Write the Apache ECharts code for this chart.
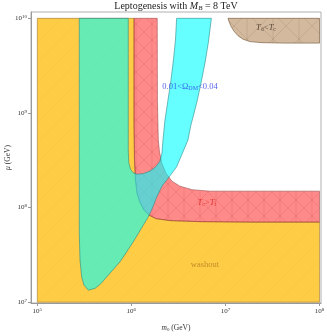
<!DOCTYPE html>
<html><head><meta charset="utf-8">
<script src="https://cdn.jsdelivr.net/npm/echarts@6/dist/echarts.min.js"></script>
<style>html,body{margin:0;padding:0;background:#fff}#c{width:327px;height:336px}</style>
</head><body><div id="c"></div>
<script>
// all coordinates are log10(m0/GeV), log10(mu/GeV)
const xTicks = [5, 6, 7, 8];
const yTicks = [7, 8, 9, 10];
const domainX = [5, 8];
const domainY = [7, 10];
// boundary between washout region and the T_c>T_f band (outer edge of band)
const washoutEdge = [[6.028,10],[6.028,8.924],[6.033,8.501],[6.044,8.290],[6.060,8.152],[6.091,8.057],[6.134,7.973],[6.187,7.920],[6.261,7.883],[6.410,7.862],[6.729,7.851],[7.260,7.846],[8,7.846]];
// inner edge of the T_c>T_f band
const tcTfInner = [[6.275,10],[6.277,9.135],[6.286,8.712],[6.299,8.586],[6.325,8.469],[6.368,8.364],[6.431,8.279],[6.516,8.226],[6.644,8.189],[6.835,8.173],[8,8.173]];
// Omega_DM = 0.01 contour
const omega001 = [[5.446,10],[5.446,7.73],[5.454,7.444],[5.472,7.264],[5.496,7.18],[5.542,7.127],[5.613,7.145],[5.677,7.196],[5.738,7.267],[5.879,7.426],[6.020,7.637],[6.180,7.902],[6.219,7.983],[6.269,8.110],[6.325,8.226],[6.392,8.311],[6.481,8.430],[6.538,8.564],[6.601,8.712],[6.633,8.871],[6.694,9.104],[6.740,9.315],[6.782,9.526],[6.819,9.748],[6.851,10]];
// Omega_DM = 0.04 contour
const omega004 = [[5.967,10],[5.967,8.607],[5.972,8.480],[5.990,8.406],[6.017,8.369],[6.060,8.353],[6.123,8.358],[6.198,8.385],[6.261,8.432],[6.304,8.490],[6.325,8.575],[6.336,8.712],[6.357,8.924],[6.389,9.135],[6.421,9.347],[6.447,9.558],[6.469,9.770],[6.481,10]];
// T_d < T_c region
const tdTc = [[7.027,10],[7.037,9.970],[7.058,9.918],[7.090,9.865],[7.133,9.817],[7.186,9.780],[7.260,9.754],[7.388,9.743],[7.632,9.738],[8,9.738],[8,10]];
// region labels
const labelPos = {washout:[6.782,7.391], tctf:[6.803,8.047], omega:[6.623,9.273], tdtc:[7.432,9.896]};

function hatch(bg, line, size, diagA, diagB, vert, lw){
  const c = document.createElement('canvas'); c.width = size; c.height = size;
  const g = c.getContext('2d');
  g.fillStyle = bg; g.fillRect(0,0,size,size);
  g.strokeStyle = line; g.lineWidth = lw || 0.6;
  g.beginPath();
  if (diagA){ g.moveTo(-1,size+1); g.lineTo(size+1,-1); }
  if (diagB){ g.moveTo(-1,-1); g.lineTo(size+1,size+1); }
  if (vert){ g.moveTo(size/2,0); g.lineTo(size/2,size); }
  g.stroke();
  return {image:c, repeat:'repeat'};
}

const orangePoly = [[domainX[0],domainY[1]]].concat(washoutEdge, [[domainX[1],domainY[0]],[domainX[0],domainY[0]]]);
const redPoly = washoutEdge.concat(tcTfInner.slice().reverse());
const cyanPoly = omega001.concat(omega004.slice().reverse());

function poly(name, pts, fill, stroke, z){
  return {type:'custom', name, z, silent:true, coordinateSystem:'cartesian2d', data:[0],
    renderItem:(params, api)=>({type:'polygon', shape:{points: pts.map(p=>api.coord(p))},
      style:{fill, stroke, lineWidth:0.8}})};
}

const serif = '"Liberation Serif", "DejaVu Serif", serif';
const richBase = {
  i:{fontFamily:serif, fontStyle:'italic', fontSize:8.5},
  n:{fontFamily:serif, fontSize:8.5},
  s:{fontFamily:serif, fontSize:6, verticalAlign:'bottom', padding:[3,0,0,0]}
};
function lab(pos, text, color){
  return {value:pos, label:{show:true, position:'inside', formatter:text, color,
    rich:{i:Object.assign({color},richBase.i), n:Object.assign({color},richBase.n), s:Object.assign({color},richBase.s)}}};
}

const chart = echarts.init(document.getElementById('c'), null, {renderer:'canvas'});
chart.setOption({
  animation:false,
  backgroundColor:'#fff',
  title:{text:'Leptogenesis with {i|M}{s|B} = 8 TeV', left:176, top:0, padding:[1,0,0,0], textAlign:'center',
    textStyle:{fontFamily:serif, fontSize:10, fontWeight:'normal', color:'#222',
      rich:{i:{fontFamily:serif, fontStyle:'italic', fontSize:10, color:'#222'},
            s:{fontFamily:serif, fontStyle:'italic', fontSize:7, color:'#222', verticalAlign:'bottom', padding:[4,0,0,0]}}}},
  grid:{left:31, right:6, top:12, bottom:33, containLabel:false, outerBoundsMode:'none', show:true, borderColor:'#b0b0b0', borderWidth:1, backgroundColor:'transparent'},
  xAxis:{type:'value', min:4.933, max:8.016,
    axisLine:{show:true, lineStyle:{color:'#999', width:1}},
    axisTick:{show:true, inside:false, length:3, customValues:xTicks, lineStyle:{color:'#999'}},
    splitLine:{show:false},
    axisLabel:{customValues:xTicks, margin:4, formatter:v=>'{b|10}{p|'+v+'}',
      rich:{b:{fontFamily:serif, fontSize:7, color:'#333'}, p:{fontFamily:serif, fontSize:5, color:'#333', verticalAlign:'top', padding:[0,0,3,0]}}},
    name:'{i|m}{s|0} (GeV)', nameLocation:'middle', nameGap:21, nameMoveOverlap:false,
    nameTextStyle:{fontFamily:serif, fontSize:7.5, color:'#333',
      rich:{i:{fontFamily:serif, fontStyle:'italic', fontSize:7.5, color:'#333'}, s:{fontFamily:serif, fontSize:5, color:'#333', verticalAlign:'bottom', padding:[3,0,0,0]}}}},
  yAxis:{type:'value', min:6.991, max:10.067,
    axisLine:{show:true, lineStyle:{color:'#999', width:1}},
    axisTick:{show:true, inside:false, length:3, customValues:yTicks, lineStyle:{color:'#999'}},
    splitLine:{show:false},
    axisLabel:{customValues:yTicks, margin:4, formatter:v=>'{b|10}{p|'+v+'}',
      rich:{b:{fontFamily:serif, fontSize:7, color:'#333'}, p:{fontFamily:serif, fontSize:5, color:'#333', verticalAlign:'top', padding:[0,0,3,0]}}},
    name:'{i|μ} (GeV)', nameLocation:'middle', nameGap:19, nameRotate:90, nameMoveOverlap:false,
    nameTextStyle:{fontFamily:serif, fontSize:7.5, color:'#333',
      rich:{i:{fontFamily:serif, fontStyle:'italic', fontSize:7.5, color:'#333'}}}},
  series:[
    poly('washout', orangePoly, hatch('#FFCD45','rgba(235,170,40,0.22)',20,true,false,false), 'rgba(150,110,40,0.7)', 1),
    poly('Tc>Tf', redPoly, hatch('rgba(255,0,0,0.46)','rgba(190,40,40,0.25)',16,true,true,true), 'rgba(150,70,70,0.7)', 2),
    poly('Omega', cyanPoly, 'rgba(0,255,255,0.6)', 'rgba(40,130,130,0.7)', 3),
    poly('Td<Tc', tdTc, hatch('rgba(175,130,80,0.55)','rgba(120,90,60,0.3)',26,true,true,true), 'rgba(110,80,50,0.75)', 4),
    {type:'scatter', z:10, symbolSize:0, silent:true, data:[
      lab(labelPos.washout, '{n|washout}', '#b07a20'),
      lab(labelPos.tctf, '{i|T}{s|c}{n|>}{i|T}{s|f}', '#e02020'),
      lab(labelPos.omega, '{n|0.01<Ω}{s|DM}{n|<0.04}', '#2a3ae8'),
      lab(labelPos.tdtc, '{i|T}{s|d}{n|<}{i|T}{s|c}', '#3a2a1a')
    ]}
  ]
});
</script></body></html>
